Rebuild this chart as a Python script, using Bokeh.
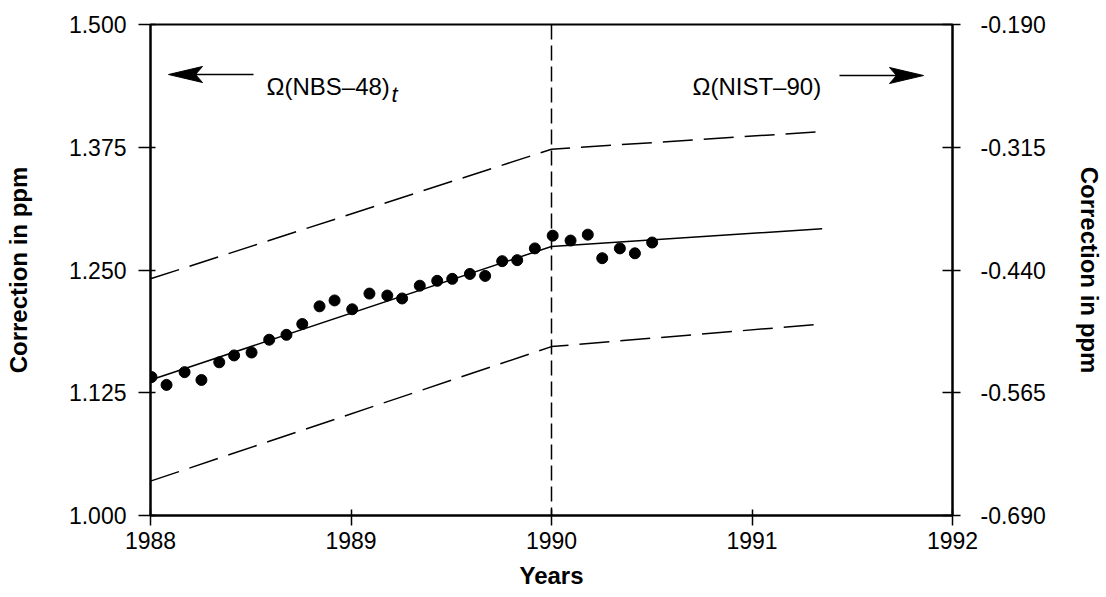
from bokeh.plotting import figure
from bokeh.models import (Range1d, LinearAxis, FixedTicker, NumeralTickFormatter, Span)
from bokeh.core.properties import value
from bokeh.embed import file_html
from bokeh.resources import INLINE

# ---- data ----
obs_years = [1988.005, 1988.08, 1988.17, 1988.254, 1988.343, 1988.417, 1988.504, 1988.592,
             1988.678, 1988.757, 1988.843, 1988.918, 1989.006, 1989.092, 1989.181, 1989.255,
             1989.343, 1989.430, 1989.505, 1989.593, 1989.669, 1989.754, 1989.829, 1989.917,
             1990.006, 1990.095, 1990.181, 1990.253, 1990.341, 1990.416, 1990.502]
obs_corr = [1.141, 1.133, 1.146, 1.138, 1.156, 1.163, 1.166, 1.179,
            1.184, 1.195, 1.213, 1.219, 1.210, 1.226, 1.224, 1.221,
            1.234, 1.239, 1.241, 1.246, 1.244, 1.259, 1.260, 1.272,
            1.285, 1.280, 1.286, 1.262, 1.272, 1.267, 1.278]
fit_years = [1988.0, 1990.0, 1991.35]
fit_mid = [1.138, 1.274, 1.292]
fit_upper = [1.241, 1.373, 1.391]
fit_lower = [1.035, 1.172, 1.195]
x_ticks = [1988, 1989, 1990, 1991, 1992]
left_ticks = [1.000, 1.125, 1.250, 1.375, 1.500]
right_ticks = [-0.690, -0.565, -0.440, -0.315, -0.190]

FONT = "Liberation Sans"
W, H = 1106, 597
BL, BR, BT, BB = 150, 154, 24, 82
FW, FH = W - BL - BR, H - BT - BB
XPX = 4.0 / FW      # data units per pixel
YPX = 0.5 / FH

p = figure(width=W, height=H, output_backend="svg", toolbar_location=None,
           x_range=Range1d(1988, 1992), y_range=Range1d(1.0, 1.5),
           min_border_left=BL, min_border_right=BR, min_border_top=BT, min_border_bottom=BB,
           y_axis_location="left")
p.extra_y_ranges = {"right": Range1d(-0.69, -0.19)}
p.xgrid.visible = False
p.ygrid.visible = False
p.background_fill_color = "white"
p.border_fill_color = "white"
p.outline_line_color = "black"
p.outline_line_width = 2

def style_axis(ax, label, tick_out, tick_in, standoff, label_standoff):
    ax.axis_label = label
    ax.axis_label_text_font = FONT
    ax.axis_label_text_font_style = "bold"
    ax.axis_label_text_font_size = "24px"
    ax.axis_label_text_color = "black"
    ax.axis_label_standoff = label_standoff
    ax.major_label_text_font = FONT
    ax.major_label_text_font_size = "23px"
    ax.major_label_text_color = "black"
    ax.major_label_standoff = standoff
    ax.axis_line_width = 2
    ax.axis_line_color = "black"
    ax.major_tick_line_width = 1.5
    ax.major_tick_line_color = "black"
    ax.major_tick_out = tick_out
    ax.major_tick_in = tick_in
    ax.minor_tick_line_color = None

xa = p.xaxis[0]
xa.ticker = FixedTicker(ticks=x_ticks)
style_axis(xa, "Years", 10, 6, 6, 10)

ya = p.yaxis[0]
ya.ticker = FixedTicker(ticks=left_ticks)
ya.formatter = NumeralTickFormatter(format="0.000")
style_axis(ya, "Correction in ppm", 12, 5, 12, 34)

ra = LinearAxis(y_range_name="right")
ra.ticker = FixedTicker(ticks=right_ticks)
ra.formatter = NumeralTickFormatter(format="0.000")
style_axis(ra, "Correction in ppm", 8, 10, 20, 27)
p.add_layout(ra, "right")

# vertical dashed line at 1990
p.add_layout(Span(location=1990, dimension="height", line_color="black",
                  line_width=1.5, line_dash="15 6"))

# fit lines
p.line(fit_years, fit_mid, line_color="black", line_width=1.5)
p.line(fit_years, fit_upper, line_color="black", line_width=1.5, line_dash="30 11")
p.line(fit_years, fit_lower, line_color="black", line_width=1.5, line_dash="30 11")

# observed points
p.scatter(obs_years, obs_corr, size=11, color="black")

# annotations: arrows + labels
def px2x(px):
    return 1988 + (px - BL) * XPX

def px2y(py):
    return 1.5 - (py - BT) * YPX

def arrow(tail_px, tip_px, y_px):
    d = 1 if tip_px > tail_px else -1
    L, hw, notch = 34, 8, 27
    p.line([px2x(tail_px), px2x(tip_px - d * notch)], [px2y(y_px)] * 2,
           line_color="black", line_width=1.5)
    xs = [px2x(tip_px), px2x(tip_px - d * L), px2x(tip_px - d * notch), px2x(tip_px - d * L)]
    ys = [px2y(y_px), px2y(y_px - hw), px2y(y_px), px2y(y_px + hw)]
    p.patch(xs, ys, color="black")

arrow(253, 168, 74)
arrow(839, 923, 75)

p.text(x=[px2x(266)], y=[px2y(86)], text=["\u03a9(NBS\u201348)"],
       text_font=value(FONT), text_font_size="24px", text_baseline="alphabetic",
       text_align="left", text_color="black")
p.text(x=[px2x(391)], y=[px2y(94)], text=["t"],
       text_font=value(FONT), text_font_size="22px", text_font_style="italic",
       text_baseline="alphabetic", text_align="left", text_color="black")
p.text(x=[px2x(692)], y=[px2y(86)], text=["\u03a9(NIST\u201390)"],
       text_font=value(FONT), text_font_size="24px", text_baseline="alphabetic",
       text_align="left", text_color="black")

open("out.html", "w").write(file_html(p, INLINE))
